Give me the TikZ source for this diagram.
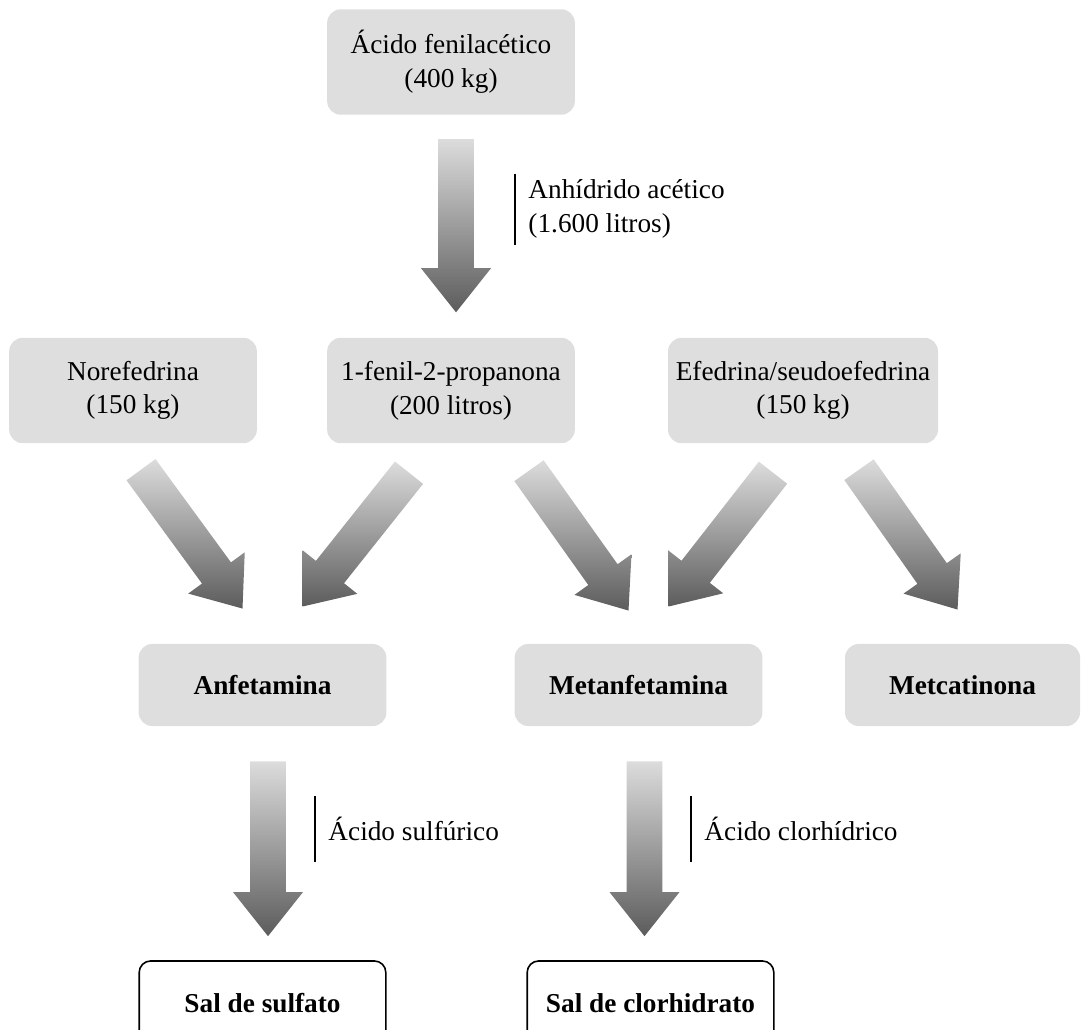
\documentclass[tikz,border=0pt]{standalone}
\usepackage{fontspec}
\setmainfont{Liberation Serif}
\usetikzlibrary{calc}

\definecolor{boxgray}{HTML}{DEDEDE}
\definecolor{arrowtop}{HTML}{DCDCDC}
\definecolor{arrowbot}{HTML}{5C5C5C}

\begin{document}
\begin{tikzpicture}[
    x=0.44pt, y=-0.44pt,
    font=\fontsize{12}{14.8}\selectfont,
    gbox/.style={rectangle, fill=boxgray, rounded corners=6pt, minimum width=109pt, minimum height=46.4pt, align=center, inner sep=2pt},
    prod/.style={gbox, minimum height=36.1pt, font=\fontsize{12}{14.8}\selectfont\bfseries},
    salt/.style={rectangle, draw=black, line width=0.7pt, fill=white, rounded corners=5pt, minimum width=108.5pt, minimum height=37pt, align=center, font=\fontsize{12}{14.8}\selectfont\bfseries},
    reagent/.style={inner sep=0pt, align=left, anchor=west},
    tick/.style={line width=0.8pt},
    fatarrow/.style={top color=arrowtop, bottom color=arrowbot, to path={
        ($(\tikztostart)!7.9pt!90:(\tikztotarget)$)
        -- ($(\tikztotarget)!19.4pt!(\tikztostart)!7.9pt!90:(\tikztotarget)$)
        -- ($(\tikztotarget)!19.4pt!(\tikztostart)!15.4pt!90:(\tikztotarget)$)
        -- (\tikztotarget)
        -- ($(\tikztotarget)!19.4pt!(\tikztostart)!15.4pt!-90:(\tikztotarget)$)
        -- ($(\tikztotarget)!19.4pt!(\tikztostart)!7.9pt!-90:(\tikztotarget)$)
        -- ($(\tikztostart)!7.9pt!-90:(\tikztotarget)$)
        -- cycle}}
]
\clip (0,0) rectangle (1082,1029);

% Precursor (top)
\node[gbox] (acido) at (451,62) {Ácido fenilacético\\(400 kg)};

% Precursors (middle row)
\node[gbox] (nore) at (133,390.5) {Norefedrina\\(150 kg)};
\node[gbox] (fenil) at (451,390.5) {1-fenil-2-propanona\\(200 litros)};
\node[gbox, minimum width=118.8pt] (efe) at (803,390.5) {Efedrina/seudoefedrina\\(150 kg)};

% Products
\node[prod] (anf) at (262.5,685) {Anfetamina};
\node[prod] (metan) at (638.5,685) {Metanfetamina};
\node[prod, minimum width=103.4pt] (metca) at (962.5,685) {Metcatinona};

% Salts
\node[salt] (sulf) at (262.5,1003) {Sal de sulfato};
\node[salt] (clor) at (650.5,1003) {Sal de clorhidrato};

% Arrow end points
\coordinate (a0s) at ($(acido.south)+(5,24)$);
\coordinate (a0t) at ($(fenil.north)+(5,-25)$);
\coordinate (a1s) at ($(nore.south)+(8,26)$);
\coordinate (a1t) at ($(anf.north)+(-20,-35)$);
\coordinate (a2s) at ($(fenil.south)+(-42,29)$);
\coordinate (a2t) at ($(anf.north)+(40,-37)$);
\coordinate (a3s) at ($(fenil.south)+(78,27)$);
\coordinate (a3t) at ($(metan.north)+(-10,-33)$);
\coordinate (a4s) at ($(efe.south)+(-30,29)$);
\coordinate (a4t) at ($(metan.north)+(30,-37)$);
\coordinate (a5s) at ($(efe.south)+(56,26)$);
\coordinate (a5t) at ($(metca.north)+(-5,-34)$);
\coordinate (a6s) at ($(anf.south)+(5.5,35)$);
\coordinate (a6t) at ($(sulf.north)+(5.5,-24)$);
\coordinate (a7s) at ($(metan.south)+(6,35)$);
\coordinate (a7t) at ($(clor.north)+(-6,-24)$);

% Fat shaded arrows
\path[fatarrow] (a0s) to (a0t);
\path[fatarrow] (a1s) to (a1t);
\path[fatarrow] (a2s) to (a2t);
\path[fatarrow] (a3s) to (a3t);
\path[fatarrow] (a4s) to (a4t);
\path[fatarrow] (a5s) to (a5t);
\path[fatarrow] (a6s) to (a6t);
\path[fatarrow] (a7s) to (a7t);

% Reagents
\node[reagent] (anhid) at (528,209) {Anhídrido acético\\(1.600 litros)};
\draw[tick] ($(anhid.west)+(-13,-35.5)$) -- ($(anhid.west)+(-13,35.5)$);
\node[reagent] (sulfur) at (328,829) {Ácido sulfúrico};
\draw[tick] ($(sulfur.west)+(-13,-33)$) -- ($(sulfur.west)+(-13,33)$);
\node[reagent] (clorh) at (704,829) {Ácido clorhídrico};
\draw[tick] ($(clorh.west)+(-13,-33)$) -- ($(clorh.west)+(-13,33)$);

\end{tikzpicture}
\end{document}
